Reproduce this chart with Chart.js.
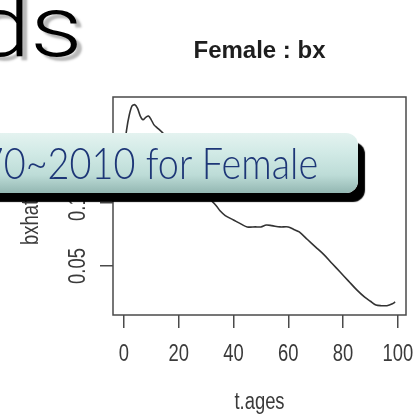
<!DOCTYPE html>
<html>
<head>
<meta charset="utf-8">
<script src="https://cdn.jsdelivr.net/npm/chart.js@4.4.0/dist/chart.umd.min.js"></script>
<style>
  html, body { margin: 0; padding: 0; background: #fff; overflow: hidden; }
  #wrap { position: relative; width: 418px; height: 418px; overflow: hidden; background: #fff; }
  #chart { position: absolute; left: 0; top: 0; }
  #big {
    position: absolute; left: -27px; top: -16px;
    font-family: Roboto, "Open Sans", sans-serif; font-weight: 300;
    font-size: 86px; line-height: 1; color: #000;
    text-shadow: 4px 4px 2px #b8b8b8; white-space: nowrap;
    transform: scaleX(1.2); transform-origin: left top;
  }
  #banner {
    position: absolute; left: -40px; top: 133px; width: 398px; height: 60px;
    border-radius: 0 12px 12px 0;
    background: linear-gradient(to bottom, #e4f3f0 0%, #d0e9e5 35%, #bddcd7 70%, #93b7b2 100%);
    box-shadow: 7px 9px 1px #000;
  }
  #banner span {
    position: absolute; right: 40px; top: 4px;
    font-family: Lato, "Open Sans", sans-serif; font-weight: 300; font-size: 43px; color: #1d3677;
    white-space: nowrap; transform: scaleX(0.88); transform-origin: right center;
  }
</style>
</head>
<body>
<div id="wrap">
  <canvas id="chart" width="418" height="418"></canvas>
  <div id="big">ds</div>
  <div id="banner"><span>1970~2010 for Female</span></div>
</div>
<script>
// ages and bx values
const ages = [0, 1, 2, 3, 4, 5, 6, 7, 8, 9, 10, 11, 12, 14, 16, 18, 20, 22, 24, 26, 28, 30, 32, 34,
  35, 37, 40, 43, 45, 48, 50, 52, 54, 57, 60, 62, 64, 67, 70, 73, 76, 79, 82, 85, 88, 90, 92, 94, 96, 98, 99];
const bx = [0.140, 0.158, 0.170, 0.177, 0.178, 0.175, 0.169, 0.166, 0.168, 0.169, 0.166, 0.162, 0.160,
  0.156, 0.151, 0.146, 0.140, 0.134, 0.128, 0.121, 0.114, 0.108, 0.102, 0.097,
  0.094, 0.090, 0.0865, 0.083, 0.081, 0.081, 0.081, 0.0825, 0.082, 0.081, 0.081, 0.079, 0.077,
  0.071, 0.065, 0.059, 0.052, 0.045, 0.038, 0.031, 0.025, 0.022, 0.019, 0.0185, 0.0185, 0.020, 0.0215];

const xTicks = [0, 20, 40, 60, 80, 100];
const yTicks = [0.05, 0.10];
const mainTitle = "Female : bx";
const xTitle = "t.ages";
const yTitle = "bxhat";

const rFont = '"Liberation Sans", Arial, sans-serif';
const inkColor = "#3a3a3a";
const squeeze = 0.8;

// R-style text is a bit narrow, so it is drawn here with a horizontal squeeze
function narrowText(ctx, text, x, y, angle, align) {
  ctx.save();
  ctx.translate(x, y);
  ctx.rotate(angle);
  ctx.scale(squeeze, 1);
  ctx.textAlign = align;
  ctx.textBaseline = "middle";
  ctx.fillText(text, 0, 0);
  ctx.restore();
}

const extras = {
  id: "extras",
  afterDraw(chart) {
    const { ctx, chartArea: a, scales: { x, y } } = chart;
    ctx.save();
    ctx.strokeStyle = "#4a4a4a";
    ctx.lineWidth = 1.5;
    ctx.strokeRect(a.left, a.top, a.right - a.left, a.bottom - a.top);

    ctx.fillStyle = "#1e1e1e";
    ctx.font = "bold 24px " + rFont;
    ctx.textAlign = "center";
    ctx.textBaseline = "alphabetic";
    ctx.fillText(mainTitle, (a.left + a.right) / 2, 58);

    ctx.fillStyle = inkColor;
    ctx.font = "23px " + rFont;
    xTicks.forEach(v => narrowText(ctx, String(v), x.getPixelForValue(v), 355, 0, "center"));
    yTicks.forEach(v => narrowText(ctx, v.toFixed(2), 79, y.getPixelForValue(v), -Math.PI / 2, "center"));
    narrowText(ctx, xTitle, (a.left + a.right) / 2, 403, 0, "center");
    narrowText(ctx, yTitle, 32, 245, -Math.PI / 2, "left");
    ctx.restore();
  }
};

new Chart(document.getElementById("chart"), {
  type: "line",
  data: {
    datasets: [{
      data: ages.map((a, i) => ({ x: a, y: bx[i] })),
      borderColor: "#333",
      borderWidth: 1.6,
      pointRadius: 0,
      tension: 0.3,
      fill: false
    }]
  },
  options: {
    responsive: false,
    animation: false,
    devicePixelRatio: 1,
    layout: { padding: { left: 0, top: 97, right: 12, bottom: 0 } },
    plugins: { legend: { display: false }, tooltip: { enabled: false }, title: { display: false } },
    scales: {
      x: {
        type: "linear",
        min: -3.96,
        max: 102.96,
        afterBuildTicks: s => { s.ticks = xTicks.map(v => ({ value: v })); },
        afterFit: s => { s.height = 103; },
        grid: { drawOnChartArea: false, drawTicks: true, tickLength: 13, color: "#4a4a4a", lineWidth: 1.5 },
        border: { display: false },
        ticks: { display: false }
      },
      y: {
        type: "linear",
        min: 0.0111,
        max: 0.1841,
        afterBuildTicks: s => { s.ticks = yTicks.map(v => ({ value: v })); },
        afterFit: s => { s.width = 113; },
        grid: { drawOnChartArea: false, drawTicks: true, tickLength: 13, color: "#4a4a4a", lineWidth: 1.5 },
        border: { display: false },
        ticks: { display: false }
      }
    }
  },
  plugins: [extras]
});
</script>
</body>
</html>
